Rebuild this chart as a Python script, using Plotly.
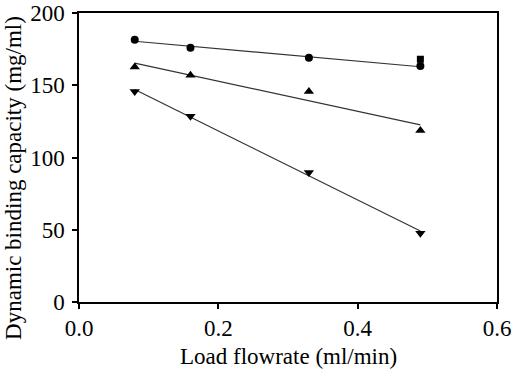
import numpy as np
import plotly.graph_objects as go

flowrate = [0.08, 0.16, 0.33, 0.49]
dbc_circle = [181.5, 176.0, 169.0, 163.4]
dbc_up = [162.7, 157.0, 145.7, 118.7]
dbc_down = [145.7, 128.5, 89.6, 47.6]
square_x = [0.49]
square_y = [168.0]

fig = go.Figure()

def fit_line(x, y):
    m, b = np.polyfit(x, y, 1)
    xs = [min(x), max(x)]
    return xs, [m * v + b for v in xs]

for ys in (dbc_circle, dbc_up, dbc_down):
    lx, ly = fit_line(flowrate, ys)
    fig.add_trace(go.Scatter(x=lx, y=ly, mode="lines",
                             line=dict(color="#333333", width=1.2),
                             showlegend=False, hoverinfo="skip"))

fig.add_trace(go.Scatter(x=square_x, y=square_y, mode="markers",
                         marker=dict(symbol="square", size=7, color="black"),
                         showlegend=False))
fig.add_trace(go.Scatter(x=flowrate, y=dbc_circle, mode="markers",
                         marker=dict(symbol="circle", size=8, color="black"),
                         showlegend=False))
fig.add_trace(go.Scatter(x=flowrate, y=dbc_up, mode="markers",
                         marker=dict(symbol="triangle-up", size=9, color="black"),
                         showlegend=False))
fig.add_trace(go.Scatter(x=flowrate, y=dbc_down, mode="markers",
                         marker=dict(symbol="triangle-down", size=9, color="black"),
                         showlegend=False))

font = dict(family="Liberation Serif, Times New Roman, serif", size=23, color="black")

fig.update_layout(
    width=512, height=374,
    margin=dict(l=79, r=15, t=13, b=72, autoexpand=False),
    paper_bgcolor="white", plot_bgcolor="white",
    font=font,
    showlegend=False,
    annotations=[
        dict(text="Load flowrate (ml/min)", xref="paper", yref="paper",
             x=0.5, y=-0.19, xanchor="center", yanchor="middle",
             showarrow=False, font=font),
        dict(text="Dynamic binding capacity (mg/ml)", xref="paper", yref="paper",
             x=-0.155, y=0.43, xanchor="center", yanchor="middle",
             textangle=-90, showarrow=False, font=font),
    ],
)
fig.update_xaxes(
    range=[0, 0.6], dtick=0.2, tick0=0, tickformat=".1f",
    showgrid=False, zeroline=False, automargin=False,
    showline=True, linecolor="black", linewidth=1.5, mirror=True,
    ticks="outside", ticklen=5, tickwidth=1.5, tickcolor="black",
    ticklabeloverflow="allow",
)
fig.update_yaxes(
    range=[0, 200], dtick=50, tick0=0,
    showgrid=False, zeroline=False, automargin=False,
    showline=True, linecolor="black", linewidth=1.5, mirror=True,
    ticks="outside", ticklen=5, tickwidth=1.5, tickcolor="black",
    ticklabeloverflow="allow", ticklabelstandoff=3,
)

fig.write_html("out.html", config={"displayModeBar": False},
               post_script="document.body.style.margin='0';document.body.style.overflow='hidden';")
